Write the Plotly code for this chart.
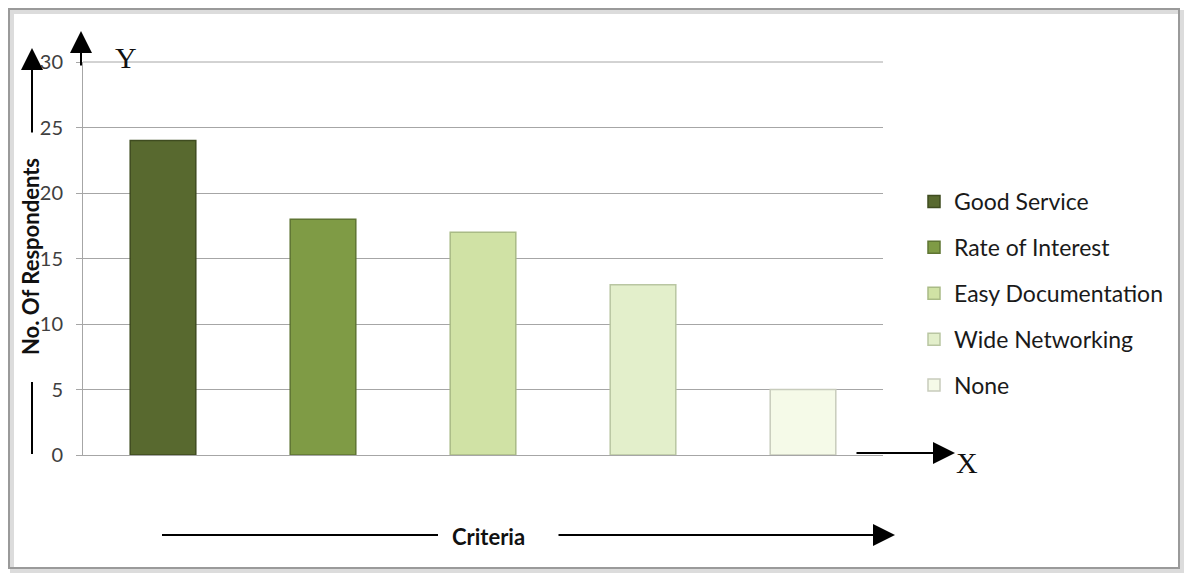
import plotly.graph_objects as go

# Survey results: criteria chosen by respondents
criteria = ["Good Service", "Rate of Interest", "Easy Documentation", "Wide Networking", "None"]
respondents = [24, 18, 17, 13, 5]
fill_colors = ["#58692F", "#7F9B45", "#D0E2A5", "#E3EFCB", "#F5FAE8"]
edge_colors = ["#3F4C20", "#5F7533", "#A9BB86", "#B9C6A2", "#C8CCBC"]
y_ticks = [0, 5, 10, 15, 20, 25, 30]

W, H = 1185, 575
L, R, T, B = 83, 302, 62, 120
PW, PH = W - L - R, H - T - B


def px(x):
    return (x - L) / PW


def py(y):
    return (H - B - y) / PH


fig = go.Figure()
for name, val, fc, ec in zip(criteria, respondents, fill_colors, edge_colors):
    fig.add_trace(go.Bar(
        x=[name], y=[val], name=name, width=0.41, legendgroup=name,
        marker=dict(color=fc, line=dict(color=ec, width=1.5)),
    ))

font_main = "Lato, 'Open Sans', sans-serif"
serif = "'Liberation Serif', 'DejaVu Serif', serif"
grid = "#a6a6a6"

fig.update_layout(
    width=W, height=H,
    margin=dict(l=L, r=R, t=T, b=B),
    paper_bgcolor="white", plot_bgcolor="white",
    barmode="overlay",
    showlegend=True,
    legend=dict(
        x=px(914), y=py(180), xanchor="left", yanchor="top",
        font=dict(family=font_main, size=23, color="#1a1a1a"),
        tracegroupgap=13, bgcolor="rgba(0,0,0,0)",
    ),
    xaxis=dict(
        categoryorder="array", categoryarray=criteria,
        showticklabels=False, showgrid=False, zeroline=False,
        showline=True, linecolor=grid, linewidth=1, ticks="",
    ),
    yaxis=dict(
        range=[0, 30], tickvals=y_ticks, ticktext=[str(v) for v in y_ticks],
        showgrid=True, gridcolor=grid, gridwidth=1,
        zeroline=False, showline=True, linecolor=grid, linewidth=1,
        ticks="outside", ticklen=6, tickcolor=grid,
        ticklabelstandoff=9,
        tickfont=dict(family=font_main, size=20, color="#404040"),
    ),
)

# Top gridline along the upper edge of the plotting area
fig.add_shape(type="line", xref="paper", yref="paper",
              x0=0, x1=1, y0=1, y1=1,
              line=dict(color=grid, width=1))

# Chart frame with a soft shadow on the right and bottom
fig.add_shape(type="rect", xref="paper", yref="paper",
              x0=px(12), x1=px(1182), y0=py(571), y1=py(12),
              line=dict(color="#dcdcdc", width=4), layer="below")
fig.add_shape(type="rect", xref="paper", yref="paper",
              x0=px(9), x1=px(1179), y0=py(568), y1=py(9),
              line=dict(color="#9a9a9a", width=2), layer="below")


def label(text, x, y, size, family=font_main, angle=0):
    fig.add_annotation(text=text, xref="paper", yref="paper",
                       x=px(x), y=py(y), xanchor="center", yanchor="middle",
                       textangle=angle, showarrow=False,
                       font=dict(family=family, size=size, color="#111111"))


# Axis titles and letters
label("<b>No. Of Respondents</b>", 30, 257, 22, angle=-90)
label("<b>Criteria</b>", 488, 536, 22)
label("Y", 126, 58, 30, family=serif)
label("X", 967, 462, 30, family=serif)

# Direction arrows: (tip_x, tip_y, tail_x, tail_y) in pixels
arrows = [
    (81, 31, 81, 67),
    (32, 48, 32, 134),
    (955, 453, 855, 453),
    (895, 535, 557, 535),
]
for tx, ty, sx, sy in arrows:
    fig.add_annotation(text="", xref="paper", yref="paper",
                       x=px(tx), y=py(ty), ax=sx - tx, ay=sy - ty,
                       axref="pixel", ayref="pixel",
                       showarrow=True, arrowhead=2, arrowsize=2.2,
                       arrowwidth=2, arrowcolor="black", standoff=0)

# Plain guide lines
for x0, y0, x1, y1 in [(32, 382, 32, 454), (162, 535, 438, 535)]:
    fig.add_shape(type="line", xref="paper", yref="paper",
                  x0=px(x0), y0=py(y0), x1=px(x1), y1=py(y1),
                  line=dict(color="black", width=2))

fig.write_html("out.html")
